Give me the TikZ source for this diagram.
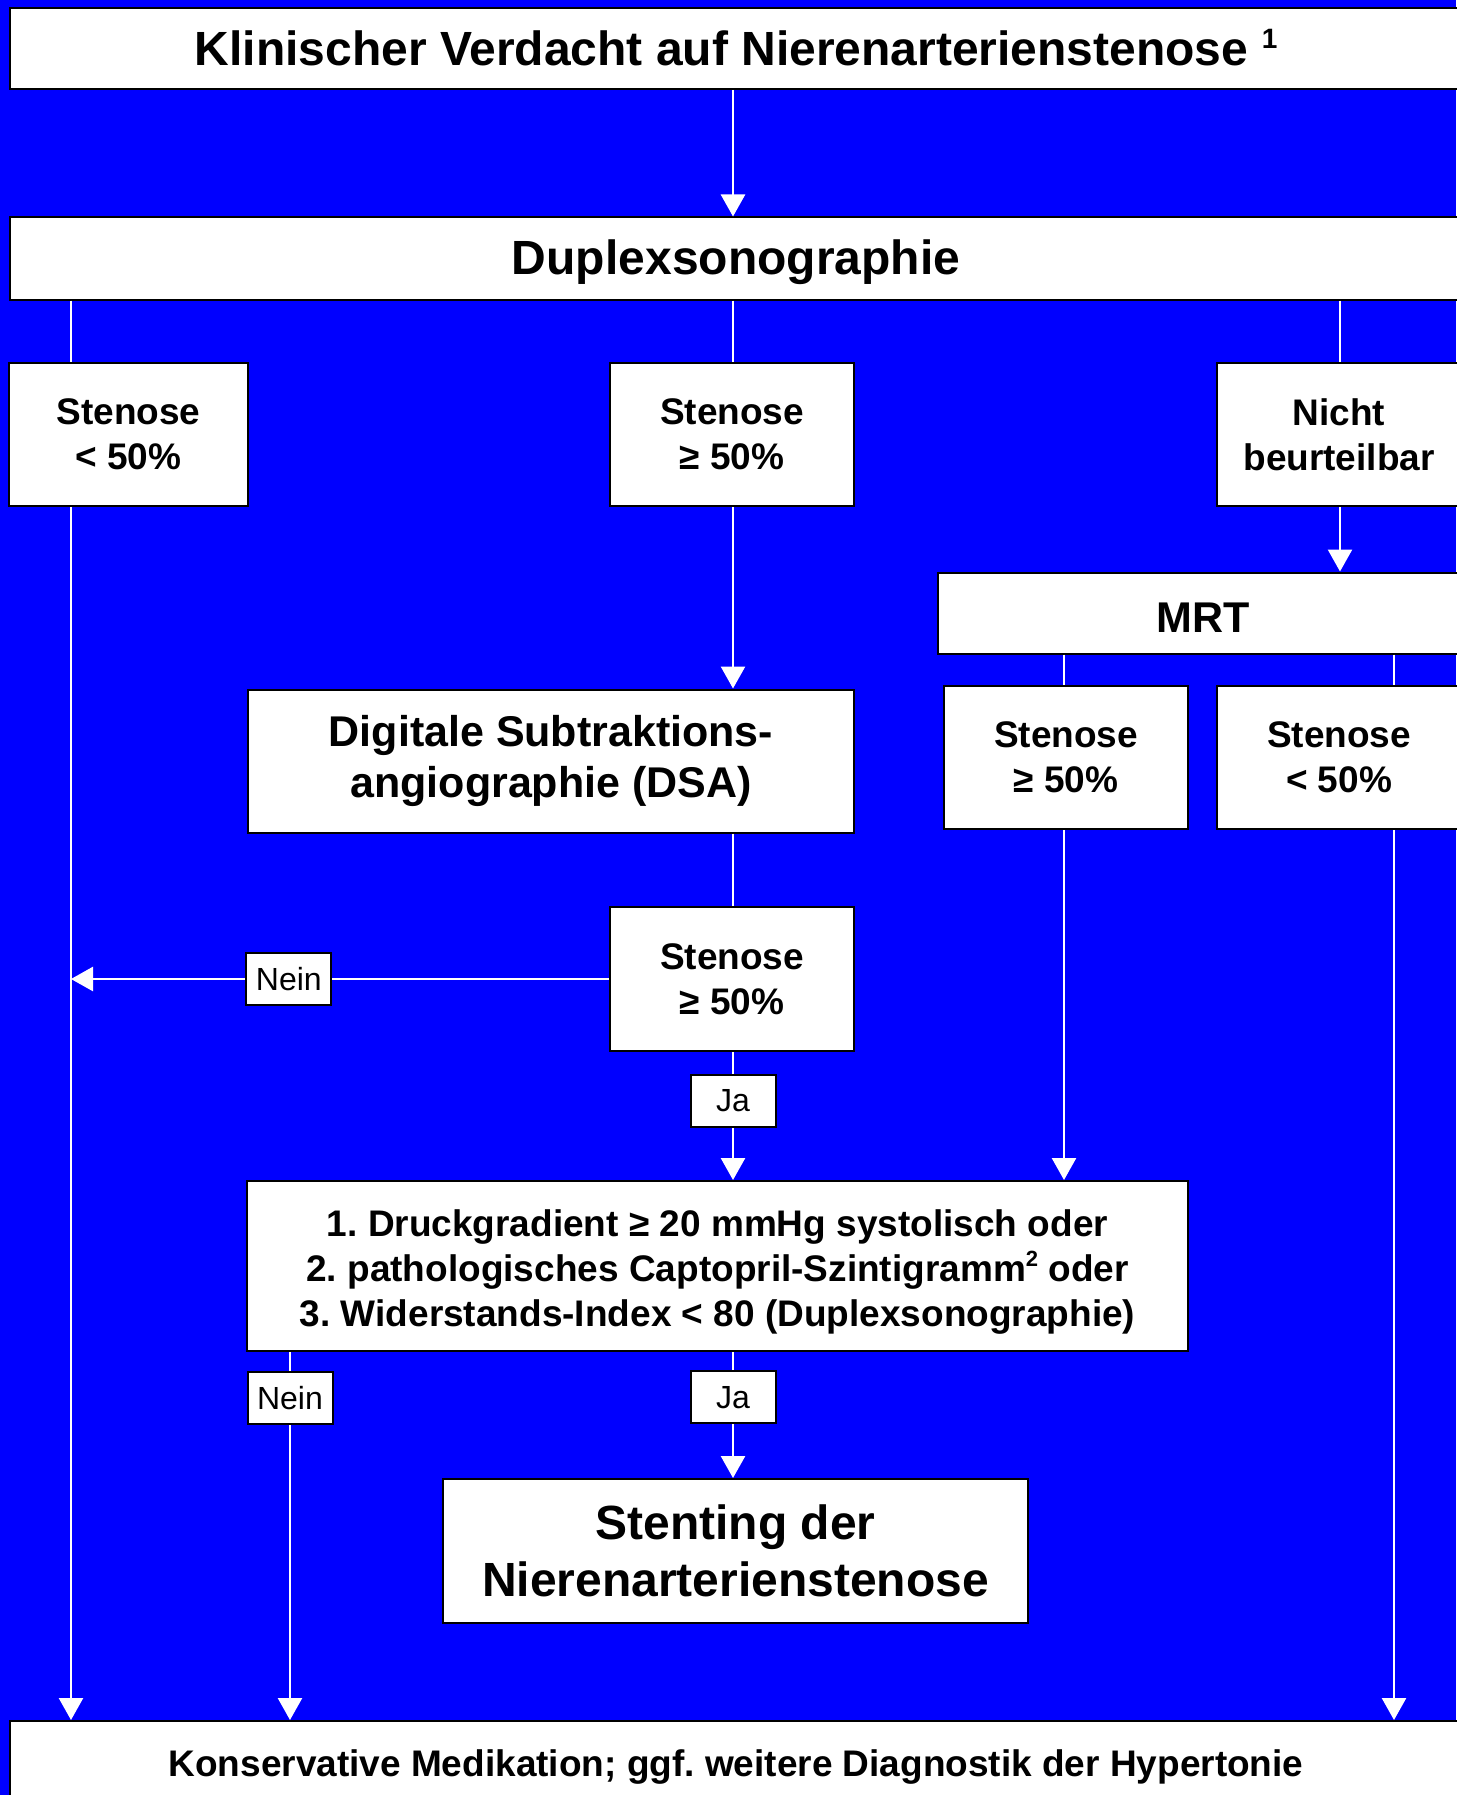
\documentclass[tikz,border=0pt]{standalone}
\usepackage{fontspec}
\setmainfont{Liberation Sans}
\usepackage{tikz}
\usetikzlibrary{positioning,arrows.meta}
\newcommand{\hoch}[3]{\raisebox{#2pt}{\fontsize{#1}{#1}\selectfont #3}}
\tikzset{
  box/.style={rectangle, draw=black, line width=2pt, fill=white, inner sep=0pt, align=center},
  huge/.style={font=\fontsize{48}{57}\selectfont\bfseries},
  big/.style={font=\fontsize{43}{51.5}\selectfont\bfseries},
  mid/.style={font=\fontsize{37}{45}\selectfont\bfseries},
  lbl/.style={box, font=\fontsize{32}{38}\selectfont, minimum width=85pt, minimum height=52pt},
  conn/.style={draw=white, line width=2.5pt},
  fwd/.style={conn, -{Triangle[width=24pt, length=22pt]}},
}

\begin{document}
\frenchspacing
\begin{tikzpicture}[x=1pt, y=-1pt]
  \fill[blue] (0,0) rectangle (1456,1795);
  \useasboundingbox (0,0) rectangle (1456,1795);

  % columns of the connectors
  \coordinate (colL) at (71,0);
  \coordinate (colN) at (290,0);
  \coordinate (colM) at (733,0);
  \coordinate (colG) at (1064,0);
  \coordinate (colR) at (1340,0);
  \coordinate (colK) at (1394,0);

  \node[box, huge, anchor=west, minimum width=1452pt, minimum height=81pt, text height=35pt, text depth=0pt] (verdacht) at (9,48.5) {Klinischer Verdacht auf Nierenarterienstenose \hoch{28}{17}{1}};
  \node[box, huge, anchor=west, minimum width=1452pt, minimum height=82pt, text height=31pt, text depth=0pt] (duplex) at (9,258.5) {Duplexsonographie};

  \node[box, mid, minimum width=239pt, minimum height=143pt] (kleiner) at (128.5,434.5) {Stenose\\< 50\%};
  \node[box, mid, minimum width=244pt, minimum height=143pt] (groesser) at (732,434.5) {Stenose\\≥ 50\%};
  \node[box, mid, minimum width=244pt, minimum height=143pt] (nicht) at (1339,434.5) {Nicht\\beurteilbar};

  \node[box, big, anchor=west, minimum width=530pt, minimum height=81pt, text height=39pt, text depth=0pt] (mrt) at (937,613) {MRT};
  \node[box, mid, minimum width=244pt, minimum height=143pt] (mrtgr) at (1066,757.5) {Stenose\\≥ 50\%};
  \node[box, mid, minimum width=244pt, minimum height=143pt] (mrtkl) at (1339,757.5) {Stenose\\< 50\%};

  \node[box, big, minimum width=606pt, minimum height=143pt] (dsa) at (551,761) {Digitale Subtraktions-\\angiographie (DSA)};
  \node[box, mid, minimum width=244pt, minimum height=144pt] (dsagr) at (732,979) {Stenose\\≥ 50\%};

  \node[box, mid, minimum width=941pt, minimum height=170pt] (kriterien) at (717.5,1266) {\rule{0pt}{38pt}1. Druckgradient ≥ 20 mmHg systolisch oder\\2. pathologisches Captopril-Szintigramm\hoch{22}{15}{2} oder\\3. Widerstands-Index < 80 (Duplexsonographie)};
  \node[box, huge, minimum width=585pt, minimum height=144pt] (stenting) at (735.5,1551) {Stenting der\\Nierenarterienstenose};

  \node[box, mid, anchor=west, minimum width=1452pt, minimum height=84pt, text depth=0pt] (konservativ) at (9,1763) {Konservative Medikation; ggf. weitere Diagnostik der Hypertonie};

  \draw[fwd] (verdacht.south -| colM) -- (duplex.north -| colM);
  \draw[conn] (duplex.south -| colL) -- (kleiner.north -| colL);
  \draw[conn] (duplex.south -| colM) -- (groesser.north -| colM);
  \draw[conn] (duplex.south -| colR) -- (nicht.north -| colR);
  \draw[fwd] (nicht.south -| colR) -- (mrt.north -| colR);
  \draw[conn] (mrt.south -| colG) -- (mrtgr.north -| colG);
  \draw[conn] (mrt.south -| colK) -- (mrtkl.north -| colK);

  \draw[fwd] (groesser.south -| colM) -- (dsa.north -| colM);
  \draw[conn] (dsa.south -| colM) -- (dsagr.north -| colM);
  \draw[fwd] (dsagr.west) -- node[lbl, pos=0.595] (nein1) {Nein} (dsagr.west -| colL);
  \draw[fwd] (dsagr.south -| colM) -- node[lbl, pos=0.38] (ja1) {Ja} (kriterien.north -| colM);
  \draw[fwd] (mrtgr.south -| colG) -- (kriterien.north -| colG);

  \draw[fwd] (kriterien.south -| colM) -- node[lbl, pos=0.36] (ja2) {Ja} (stenting.north -| colM);
  \draw[fwd] (kriterien.south -| colN) -- node[lbl, pos=0.124] (nein2) {Nein} (konservativ.north -| colN);
  \draw[fwd] (kleiner.south -| colL) -- (konservativ.north -| colL);
  \draw[fwd] (mrtkl.south -| colK) -- (konservativ.north -| colK);
\end{tikzpicture}
\end{document}
